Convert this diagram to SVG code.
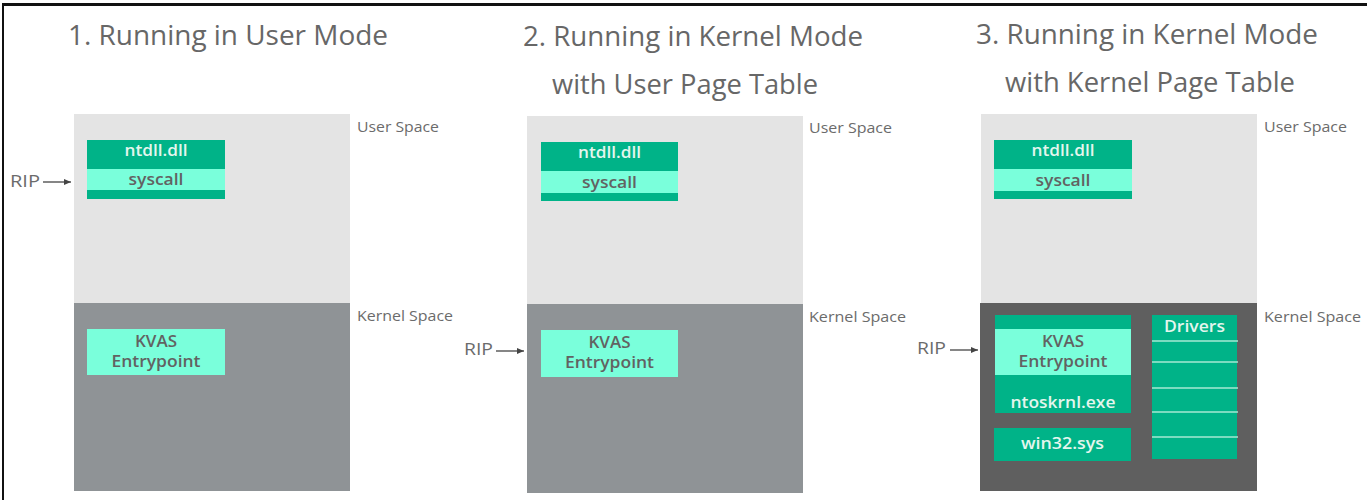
<svg xmlns="http://www.w3.org/2000/svg" width="1367" height="500" viewBox="0 0 1367 500">
<defs>
<style>
text{font-family:"Open Sans","Noto Sans","DejaVu Sans",sans-serif}
.title{font-size:28px;fill:#676767}
.lbl{font-size:15px;fill:#6b6b6b}
.rip{font-size:16px;fill:#6b6b6b}
.onG{font-size:16px;font-weight:600;fill:#e4f6ee;text-anchor:middle}
.onM{font-size:16px;font-weight:600;fill:#626262;text-anchor:middle}
.user{fill:#e4e4e4}
.kern{fill:#8f9396}
.kern3{fill:#5f5f5f}
.green{fill:#00b388}
.mint{fill:#7affdb}
.conn{stroke:#444;stroke-width:1.3;fill:none}
.div{stroke:#a6e8d3;stroke-width:1.6}
</style>
<marker id="ah" markerWidth="8" markerHeight="8" refX="7" refY="4" orient="auto" markerUnits="userSpaceOnUse">
<path d="M0,1 L7,4 L0,7 Z" fill="#444"/>
</marker>
</defs>
<rect width="1367" height="500" fill="#fff"/>
<rect x="2" y="3" width="1365" height="3" fill="#111"/>
<rect x="2" y="3" width="2" height="497" fill="#111"/>

<g id="titles">
<text class="title" x="68" y="45" textLength="320" lengthAdjust="spacingAndGlyphs">1. Running in User Mode</text>
<text class="title" x="523" y="46" textLength="340" lengthAdjust="spacingAndGlyphs">2. Running in Kernel Mode</text>
<text class="title" x="552" y="94" textLength="266" lengthAdjust="spacingAndGlyphs">with User Page Table</text>
<text class="title" x="976" y="44" textLength="342" lengthAdjust="spacingAndGlyphs">3. Running in Kernel Mode</text>
<text class="title" x="1005" y="92" textLength="290" lengthAdjust="spacingAndGlyphs">with Kernel Page Table</text>
</g>

<!-- Panel 1 -->
<g id="p1-user-space">
<rect class="user" x="74" y="114" width="276" height="189"/>
<text class="lbl" x="357" y="132" textLength="82" lengthAdjust="spacingAndGlyphs">User Space</text>
</g>
<g id="p1-kernel-space">
<rect class="kern" x="74" y="303" width="276" height="188"/>
<text class="lbl" x="357" y="321" textLength="96" lengthAdjust="spacingAndGlyphs">Kernel Space</text>
</g>
<g id="p1-ntdll">
<rect class="green" x="87" y="140" width="138" height="59"/>
<rect class="mint" x="87" y="169" width="138" height="21"/>
<text class="onG" x="156" y="156" textLength="63" lengthAdjust="spacingAndGlyphs">ntdll.dll</text>
<text class="onM" x="156" y="185" textLength="55" lengthAdjust="spacingAndGlyphs">syscall</text>
</g>
<g id="p1-kvas">
<rect class="mint" x="87" y="329" width="138" height="46"/>
<text class="onM" x="156" y="347" textLength="42" lengthAdjust="spacingAndGlyphs">KVAS</text>
<text class="onM" x="156" y="367" textLength="89" lengthAdjust="spacingAndGlyphs">Entrypoint</text>
</g>
<g id="p1-rip">
<text class="rip" x="10" y="187" textLength="30" lengthAdjust="spacingAndGlyphs">RIP</text>
</g>

<!-- Panel 2 -->
<g id="p2-user-space">
<rect class="user" x="527" y="116" width="276" height="188"/>
<text class="lbl" x="809" y="133" textLength="83" lengthAdjust="spacingAndGlyphs">User Space</text>
</g>
<g id="p2-kernel-space">
<rect class="kern" x="527" y="304" width="276" height="189"/>
<text class="lbl" x="809" y="322" textLength="97" lengthAdjust="spacingAndGlyphs">Kernel Space</text>
</g>
<g id="p2-ntdll">
<rect class="green" x="541" y="142" width="137" height="59"/>
<rect class="mint" x="541" y="171" width="137" height="22"/>
<text class="onG" x="609.5" y="158" textLength="63" lengthAdjust="spacingAndGlyphs">ntdll.dll</text>
<text class="onM" x="609.5" y="188" textLength="55" lengthAdjust="spacingAndGlyphs">syscall</text>
</g>
<g id="p2-kvas">
<rect class="mint" x="541" y="330" width="137" height="47"/>
<text class="onM" x="609.5" y="348" textLength="42" lengthAdjust="spacingAndGlyphs">KVAS</text>
<text class="onM" x="609.5" y="368" textLength="89" lengthAdjust="spacingAndGlyphs">Entrypoint</text>
</g>
<g id="p2-rip">
<text class="rip" x="464" y="355" textLength="29" lengthAdjust="spacingAndGlyphs">RIP</text>
</g>

<!-- Panel 3 -->
<g id="p3-user-space">
<rect class="user" x="981" y="114" width="276" height="189"/>
<text class="lbl" x="1264" y="132" textLength="83" lengthAdjust="spacingAndGlyphs">User Space</text>
</g>
<g id="p3-kernel-space">
<rect class="kern3" x="980" y="303" width="277" height="188"/>
<text class="lbl" x="1264" y="322" textLength="97" lengthAdjust="spacingAndGlyphs">Kernel Space</text>
</g>
<g id="p3-ntdll">
<rect class="green" x="994" y="140" width="138" height="59"/>
<rect class="mint" x="994" y="169" width="138" height="22"/>
<text class="onG" x="1063" y="156" textLength="63" lengthAdjust="spacingAndGlyphs">ntdll.dll</text>
<text class="onM" x="1063" y="186" textLength="55" lengthAdjust="spacingAndGlyphs">syscall</text>
</g>
<g id="p3-ntoskrnl">
<rect class="green" x="995" y="315" width="136" height="98"/>
<rect class="mint" x="995" y="329" width="136" height="46"/>
<text class="onM" x="1063" y="347" textLength="42" lengthAdjust="spacingAndGlyphs">KVAS</text>
<text class="onM" x="1063" y="367" textLength="89" lengthAdjust="spacingAndGlyphs">Entrypoint</text>
<text class="onG" x="1063" y="408" textLength="105" lengthAdjust="spacingAndGlyphs">ntoskrnl.exe</text>
</g>
<g id="p3-win32">
<rect class="green" x="994" y="428" width="137" height="33"/>
<text class="onG" x="1062.5" y="449" textLength="83" lengthAdjust="spacingAndGlyphs">win32.sys</text>
</g>
<g id="p3-drivers">
<rect class="green" x="1152" y="315" width="85" height="144"/>
<text class="onG" x="1194.5" y="332" textLength="61" lengthAdjust="spacingAndGlyphs">Drivers</text>
<line class="div" x1="1152" y1="341" x2="1238" y2="341"/>
<line class="div" x1="1152" y1="362" x2="1238" y2="362"/>
<line class="div" x1="1152" y1="388" x2="1238" y2="388"/>
<line class="div" x1="1152" y1="412" x2="1238" y2="412"/>
<line class="div" x1="1152" y1="437" x2="1238" y2="437"/>
</g>
<g id="p3-rip">
<text class="rip" x="917" y="354" textLength="29" lengthAdjust="spacingAndGlyphs">RIP</text>
</g>

<g id="connectors">
<line class="conn" x1="43" y1="182" x2="71" y2="182" marker-end="url(#ah)"/>
<line class="conn" x1="496" y1="351" x2="524" y2="351" marker-end="url(#ah)"/>
<line class="conn" x1="950" y1="350" x2="978" y2="350" marker-end="url(#ah)"/>
</g>
</svg>
